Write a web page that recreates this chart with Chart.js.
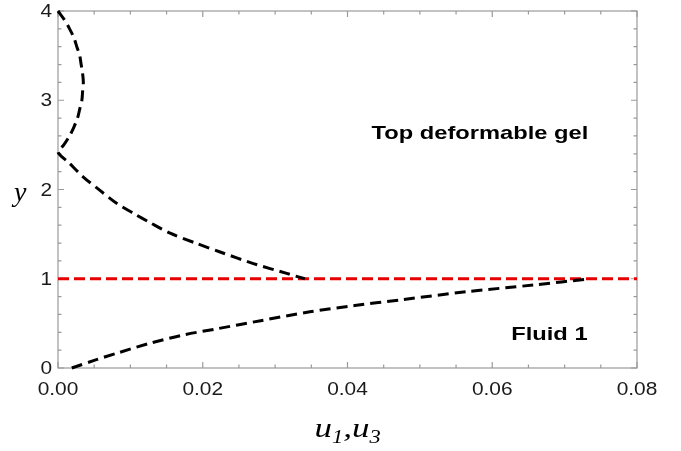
<!DOCTYPE html>
<html>
<head>
<meta charset="utf-8">
<script src="https://cdn.jsdelivr.net/npm/chart.js@4.4.1/dist/chart.umd.min.js"></script>
<style>
  body { margin: 0; background: #fff; }
  #wrap { width: 681px; height: 451px; }
</style>
</head>
<body>
<div id="wrap"><canvas id="profile" width="681" height="451"></canvas></div>
<script>
// gel velocity profile (upper curve)
const gelX = [0, 0.0009, 0.0016, 0.0022, 0.0026, 0.0030, 0.0032, 0.0034, 0.0035, 0.0034, 0.0033, 0.0030, 0.0027, 0.0022, 0.0016, 0.0008, 0,
              0.0015, 0.0035, 0.0058, 0.0081, 0.0105, 0.0127, 0.0155, 0.0190, 0.0224, 0.0270, 0.0316, 0.0341];
const gelY = [4, 3.9, 3.8, 3.7, 3.6, 3.5, 3.4, 3.3, 3.2, 3.1, 3.0, 2.9, 2.8, 2.7, 2.6, 2.5, 2.42,
              2.30, 2.14, 1.99, 1.845, 1.73, 1.63, 1.51, 1.40, 1.30, 1.17, 1.06, 1.0];

// fluid 1 profile (lower curve)
const fluidX = [0.0019, 0.0050, 0.0081, 0.0127, 0.0173, 0.0220, 0.0280, 0.0348, 0.0410, 0.0475, 0.0565, 0.0657, 0.0735];
const fluidY = [0, 0.085, 0.165, 0.277, 0.37, 0.44, 0.53, 0.63, 0.70, 0.765, 0.855, 0.93, 1.0];

// interface y = 1
const interfaceX = [0, 0.08];
const interfaceY = [1, 1];

const xTicks = [0, 0.02, 0.04, 0.06, 0.08];
const yTicks = [0, 1, 2, 3, 4];

function toPoints(xs, ys) {
    return xs.map((x, i) => ({ x: x, y: ys[i] }));
}

// the source figure is a bit wider than tall, so its text looks stretched
function wideText(ctx, text, x, y, align, stretch) {
    ctx.save();
    ctx.translate(x, y);
    ctx.scale(stretch, 1);
    ctx.textAlign = align;
    ctx.fillText(text, 0, 0);
    ctx.restore();
}

// Mathematica style frame with inward ticks
const frame = {
    id: 'frame',
    beforeDatasetsDraw(chart) {
        const ctx = chart.ctx;
        const a = chart.chartArea;
        const sx = chart.scales.x;
        const sy = chart.scales.y;
        ctx.save();
        ctx.strokeStyle = '#9a9a9a';
        ctx.lineWidth = 1.2;
        ctx.strokeRect(a.left, a.top, a.right - a.left, a.bottom - a.top);
        ctx.beginPath();
        for (let i = 0; i <= 16; i++) {
            const px = sx.getPixelForValue(i * 0.005);
            const len = i % 4 === 0 ? 6 : 3.5;
            ctx.moveTo(px, a.bottom); ctx.lineTo(px, a.bottom - len);
            ctx.moveTo(px, a.top); ctx.lineTo(px, a.top + len);
        }
        for (let i = 0; i <= 20; i++) {
            const py = sy.getPixelForValue(i * 0.2);
            const len = i % 5 === 0 ? 6 : 3.5;
            ctx.moveTo(a.left, py); ctx.lineTo(a.left + len, py);
            ctx.moveTo(a.right, py); ctx.lineTo(a.right - len, py);
        }
        ctx.stroke();
        ctx.restore();
    },
    afterDraw(chart) {
        const ctx = chart.ctx;
        const a = chart.chartArea;
        const sx = chart.scales.x;
        const sy = chart.scales.y;
        ctx.save();
        ctx.textBaseline = 'alphabetic';

        // tick labels
        ctx.fillStyle = '#1a1a1a';
        ctx.font = "19px 'Liberation Sans', Arial, sans-serif";
        xTicks.forEach(v => wideText(ctx, v.toFixed(2), sx.getPixelForValue(v), a.bottom + 27, 'center', 1.1));
        ctx.textBaseline = 'middle';
        yTicks.forEach(v => wideText(ctx, String(v), a.left - 6, sy.getPixelForValue(v) + 1, 'right', 1.1));

        // region labels
        ctx.fillStyle = '#000';
        ctx.textBaseline = 'alphabetic';
        ctx.font = "bold 18.5px 'Liberation Sans', Arial, sans-serif";
        wideText(ctx, 'Top deformable gel', sx.getPixelForValue(0.0583), sy.getPixelForValue(2.57), 'center', 1.28);
        wideText(ctx, 'Fluid 1', sx.getPixelForValue(0.0679), sy.getPixelForValue(0.313), 'center', 1.28);

        // y axis title
        ctx.font = "italic 28px 'Liberation Serif', 'Times New Roman', serif";
        wideText(ctx, 'y', 14, 201, 'left', 1.0);

        // x axis title u1,u3
        const big = "italic 28px 'Liberation Serif', 'Times New Roman', serif";
        const small = "italic 18px 'Liberation Serif', 'Times New Roman', serif";
        const parts = [['u', big, 0], ['1', small, 6], [',', big, 0], ['u', big, 0], ['3', small, 6]];
        const stretch = 1.25;
        let w = 0;
        parts.forEach(p => { ctx.font = p[1]; w += ctx.measureText(p[0]).width * stretch; });
        let cx = (a.left + a.right) / 2 - w / 2;
        parts.forEach(p => {
            ctx.font = p[1];
            wideText(ctx, p[0], cx, 437 + p[2], 'left', stretch);
            cx += ctx.measureText(p[0]).width * stretch;
        });
        ctx.restore();
    }
};

const dashed = { showLine: true, borderColor: '#000', borderWidth: 3, borderDash: [11, 6], pointRadius: 0, tension: 0.3, clip: 3 };

new Chart(document.getElementById('profile'), {
    type: 'scatter',
    data: {
        datasets: [
            Object.assign({ data: toPoints(gelX, gelY) }, dashed),
            Object.assign({ data: toPoints(fluidX, fluidY) }, dashed),
            {
                data: toPoints(interfaceX, interfaceY),
                showLine: true,
                borderColor: '#e60000',
                borderWidth: 3,
                borderDash: [11, 5],
                pointRadius: 0,
                clip: 3
            }
        ]
    },
    options: {
        responsive: false,
        animation: false,
        layout: { padding: { top: 11, right: 44, left: 0, bottom: 0 } },
        plugins: { legend: { display: false }, tooltip: { enabled: false } },
        scales: {
            x: {
                type: 'linear',
                min: 0,
                max: 0.08,
                afterFit: s => { s.height = 83; },
                afterBuildTicks: s => { s.ticks = xTicks.map(v => ({ value: v })); },
                grid: { display: false, drawTicks: false },
                border: { display: false },
                ticks: { display: false }
            },
            y: {
                type: 'linear',
                min: 0,
                max: 4,
                afterFit: s => { s.width = 58; },
                afterBuildTicks: s => { s.ticks = yTicks.map(v => ({ value: v })); },
                grid: { display: false, drawTicks: false },
                border: { display: false },
                ticks: { display: false }
            }
        }
    },
    plugins: [frame]
});
</script>
</body>
</html>
